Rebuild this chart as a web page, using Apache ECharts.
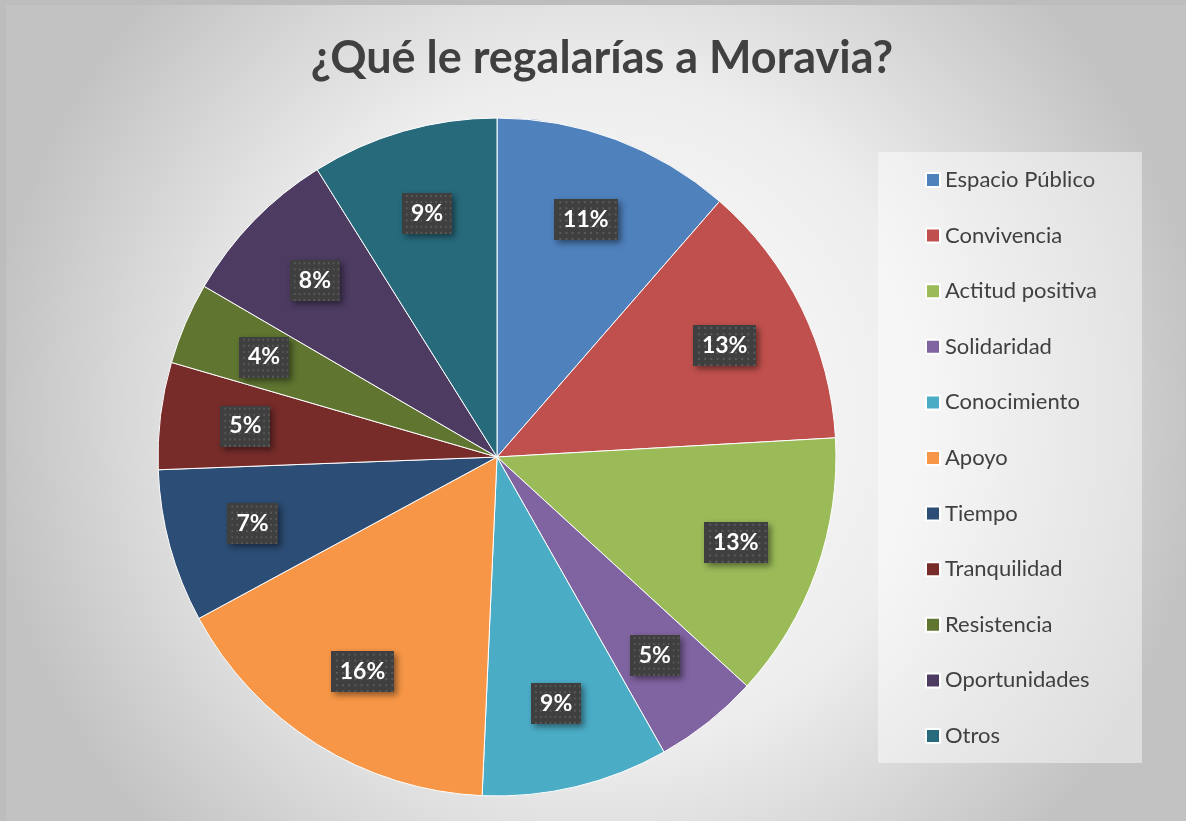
<!DOCTYPE html>
<html>
<head>
<meta charset="utf-8">
<script src="https://cdn.jsdelivr.net/npm/echarts@6/dist/echarts.min.js"></script>
<style>
  html, body { margin: 0; padding: 0; background: #bdbdbd; }
  #chart { position: absolute; left: 6px; top: 5px; width: 1180px; height: 816px; }
</style>
</head>
<body>
<div id="chart"></div>
<script>
const categories = [
  "Espacio Público", "Convivencia", "Actitud positiva", "Solidaridad",
  "Conocimiento", "Apoyo", "Tiempo", "Tranquilidad", "Resistencia",
  "Oportunidades", "Otros"
];
// share of answers (%)
const shares = [11.4, 12.7, 12.7, 5.0, 8.9, 16.4, 7.3, 5.1, 3.9, 7.7, 8.9];
const sliceColors = [
  "#4F81BD", "#C0504D", "#9BBB59", "#8064A2", "#4BACC6", "#F79646",
  "#2C4D75", "#772C2A", "#5F7530", "#4D3B62", "#276A7C"
];

// dotted dark fill used behind the percentage labels
function dotPattern(w, h) {
  const c = document.createElement("canvas");
  c.width = w;
  c.height = h;
  const ctx = c.getContext("2d");
  ctx.fillStyle = "#3f3f3f";
  ctx.fillRect(0, 0, w, h);
  ctx.fillStyle = "#5a5a5a";
  for (let y = 2; y < h; y += 6) {
    for (let x = (y / 6) % 2 ? 5 : 2; x < w; x += 6) {
      ctx.fillRect(x, y, 2, 2);
    }
  }
  return c;
}

const chart = echarts.init(document.getElementById("chart"));
const total = shares.reduce((a, b) => a + b, 0);
const center = [491, 452];
const radius = 339;

chart.setOption({
  animation: false,
  backgroundColor: {
    type: "radial", x: 0.5, y: 0.5, r: 0.75,
    colorStops: [
      { offset: 0, color: "#ffffff" },
      { offset: 0.55, color: "#ededed" },
      { offset: 1, color: "#c2c2c2" }
    ]
  },
  color: sliceColors,
  title: {
    text: "¿Qué le regalarías a Moravia?",
    left: 591, top: 26, textAlign: "center",
    textStyle: { fontFamily: "Lato", fontWeight: "bold", fontSize: 45, color: "#404040" }
  },
  legend: {
    orient: "vertical",
    left: 872, top: 147,
    icon: "rect",
    itemWidth: 14, itemHeight: 14, itemGap: 33.6,
    padding: [17, 45, 16, 47],
    backgroundColor: "rgba(255,255,255,0.45)",
    data: categories,
    textStyle: { fontFamily: "Lato", fontSize: 22, lineHeight: 20, color: "#404040" }
  },
  series: [
    {
      type: "pie",
      center: center,
      radius: [0, radius],
      startAngle: 90,
      clockwise: true,
      silent: true,
      label: { show: false },
      labelLine: { show: false },
      itemStyle: { borderColor: "#ffffff", borderWidth: 1 },
      data: categories.map((name, i) => ({ name, value: shares[i] }))
    },
    {
      type: "pie",
      center: center,
      radius: [162, radius],
      startAngle: 90,
      clockwise: true,
      silent: true,
      legendHoverLink: false,
      itemStyle: { color: "rgba(0,0,0,0)" },
      label: {
        show: true,
        position: "inside",
        formatter: (p) => Math.round(p.value / total * 100) + "%",
        fontFamily: "Lato", fontWeight: "bold", fontSize: 23,
        color: "#ffffff",
        backgroundColor: { image: dotPattern(62, 40) },
        padding: [10, 9, 8, 9],
        shadowColor: "rgba(0,0,0,0.45)",
        shadowBlur: 6, shadowOffsetX: 3, shadowOffsetY: 3
      },
      labelLine: { show: false },
      data: categories.map((name, i) => ({ name: name + " ", value: shares[i] }))
    }
  ]
});
</script>
</body>
</html>
